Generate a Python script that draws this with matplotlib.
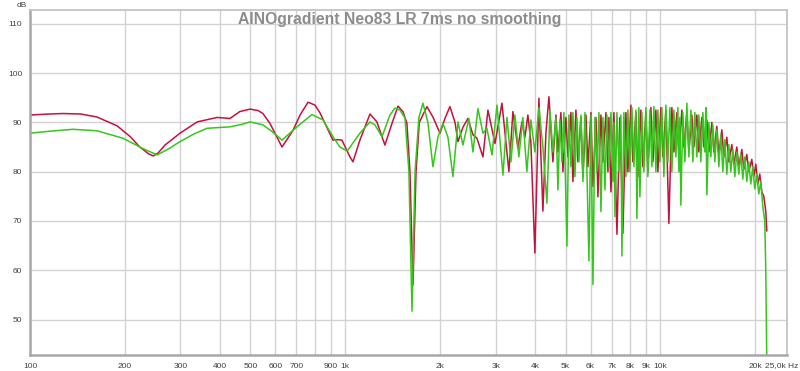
import matplotlib
matplotlib.use("Agg")
import matplotlib.pyplot as plt

freq_red = [100, 115, 127, 145, 163, 189, 208, 223, 238, 246, 255, 268, 299, 339, 392, 431,
            463, 499, 529, 548, 577, 630, 683, 719, 762, 802, 832, 914, 948, 976, 1035, 1058,
            1113, 1198, 1260, 1336, 1407, 1470, 1524, 1569, 1604, 1640, 1677, 1717, 1816, 1897,
            1997, 2071, 2148, 2229, 2278, 2362, 2450, 2541, 2616, 2734, 2836, 2985, 3141, 3305,
            3403, 3529, 3634, 3715, 3796, 3880, 3995, 4114, 4236, 4332, 4427, 4557,
            4659, 4728, 4832, 4903, 5012, 5086, 5198, 5275, 5392, 5471, 5592, 5675, 5801, 5886,
            6016, 6105, 6240, 6332, 6472, 6567, 6713, 6812, 6862, 6963, 7117, 7275, 7434, 7599,
            7767, 7881, 8056, 8174, 8355, 8478, 8666, 8793, 8988, 9120, 9323, 9460, 9669, 9811,
            10029, 10176, 10402, 10632, 10867, 11027, 11271, 11437, 11690, 11862, 12124, 12303,
            12575, 12760, 13042, 13234, 13527, 13725, 14029, 14236, 14551, 14765, 15090, 15314,
            15652, 15882, 16234, 16472, 16837, 17084, 17462, 17718, 18110, 18376, 18782, 19058,
            19480, 19766, 20057, 20351, 20650, 20954, 21261, 21574, 21732]
spl_red = [91.5, 91.7, 91.8, 91.7, 91.1, 89.3, 87.1, 85.0, 83.6, 83.2, 83.8, 85.4, 87.8, 90.1, 91.0, 90.8,
           92.2, 92.7, 92.4, 91.8, 89.8, 85.0, 88.4, 91.5, 94.1, 93.5, 91.9, 86.4, 86.5, 86.4, 83.0, 82.0,
           86.4, 91.7, 90.1, 85.4, 89.8, 93.3, 92.2, 89.8, 80.0, 57.0, 80.0, 90.0, 93.2, 91.1,
           87.8, 90.8, 93.2, 90.0, 86.1, 89.0, 90.8, 87.5, 86.8, 83.0, 92.5, 85.7, 93.9, 80.0,
           92.2, 84.8, 90.1, 87.0, 91.5, 86.0, 63.5, 94.9, 72.0, 88.0, 95.2, 82.0,
           91.5, 84.0, 92.0, 80.0, 91.0, 83.0, 92.0, 78.0, 92.5, 82.0, 91.0, 79.0, 91.5, 81.0,
           92.0, 77.0, 91.0, 74.9, 91.5, 82.0, 92.0, 80.0, 91.0, 75.9, 92.0, 67.3, 91.0, 67.5,
           92.0, 80.0, 93.5, 82.0, 92.0, 79.0, 92.5, 81.0, 92.0, 80.0, 93.0, 82.0, 92.5, 80.0,
           93.0, 83.0, 92.5, 69.5, 93.0, 84.0, 92.0, 83.0, 92.5, 85.0, 92.0, 84.0,
           91.5, 85.0, 91.5, 84.0, 91.0, 85.0, 90.5, 84.0, 90.0, 84.0, 89.2, 83.5,
           88.5, 83.0, 87.0, 82.0, 85.5, 81.5, 85.0, 81.0, 84.5, 80.5, 83.5, 80.0,
           82.5, 79.0, 81.5, 77.5, 79.5, 76.0, 75.0, 72.0, 68.0]

freq_green = [100, 115, 137, 163, 197, 228, 253, 278, 299, 330, 364, 431, 470, 499, 548, 590,
              630, 703, 784, 850, 914, 962, 1000, 1020, 1113, 1198, 1242, 1308, 1386, 1438, 1491,
              1547, 1592, 1628, 1665, 1713, 1764, 1829, 1897, 1968, 2041, 2117, 2196, 2278, 2362,
              2468, 2541, 2636, 2734, 2814, 2921, 3029, 3164, 3258, 3354, 3453, 3554, 3660, 3768,
              3881, 3995, 4114, 4236, 4363, 4460, 4557,
              4659, 4728, 4797, 4868, 4939, 5049, 5123, 5198, 5275, 5352, 5431, 5511, 5592, 5675,
              5759, 5843, 5929, 6016, 6105, 6195, 6286, 6378, 6472, 6567, 6664, 6762, 6862, 6963,
              7065, 7117, 7169, 7275, 7382, 7489, 7544, 7654, 7767, 7881, 7997, 8115, 8234, 8355,
              8416, 8540, 8603, 8729, 8858, 8988, 9120, 9255, 9391, 9529, 9669, 9811, 9956, 10102,
              10251, 10402, 10555, 10710, 10867, 11027, 11189, 11354, 11437, 11520, 11605, 11775,
              11949, 12124, 12303, 12484, 12667, 12853, 13042, 13234, 13428, 13626, 13826, 13927,
              14029, 14236, 14445, 14658, 14873, 15090, 15314, 15539, 15767, 15998, 16234, 16472,
              16714, 16960, 17209, 17462, 17718, 17978, 18242, 18510, 18782, 19058, 19338, 19622,
              19910, 20203, 20500, 20802, 21107, 21417, 21574, 21732]
spl_green = [87.8, 88.2, 88.6, 88.3, 86.8, 84.7, 83.4, 84.8, 86.1, 87.6, 88.8, 89.1, 89.6, 90.1, 89.5, 88.0,
             86.4, 89.1, 91.6, 90.5, 87.1, 85.0, 84.4, 84.4, 87.8, 90.1, 89.5, 87.1, 91.5, 92.9, 92.5,
             90.9, 80.0, 51.7, 80.0, 91.0, 93.9, 90.0, 81.0, 87.0, 89.8, 87.0, 79.0, 90.1, 85.4,
             90.8, 84.0, 92.8, 87.8, 88.8, 83.4, 93.5, 79.3, 91.0, 82.0, 91.5, 83.0, 91.0, 80.0,
             90.5, 84.0, 93.0, 85.0, 73.6, 92.5, 84.0,
             91.0, 76.3, 90.5, 82.0, 92.0, 64.9, 91.5, 81.0, 92.0, 79.0, 91.0, 82.0, 91.5, 78.0,
             92.0, 80.0, 61.9, 91.5, 57.1, 91.0, 80.0, 92.0, 71.9, 91.0, 76.3, 91.5, 81.0, 92.0,
             78.0, 90.0, 70.9, 92.0, 80.0, 91.5, 62.9, 92.0, 79.0, 92.5, 80.0, 93.0, 81.0, 92.5,
             70.5, 93.0, 74.9, 92.0, 80.0, 93.0, 79.0, 92.5, 81.0, 93.2, 80.0, 92.5, 82.0, 93.0,
             79.0, 93.5, 82.0, 93.0, 80.0, 92.5, 83.0, 93.0, 80.0, 91.0, 73.2, 92.0,
             82.0, 93.9, 83.0, 92.5, 82.0, 92.0, 83.0, 91.5, 82.0, 92.0, 84.0, 93.0,
             75.3, 90.0, 83.0, 89.5, 82.0, 88.5, 81.0, 87.5, 80.0, 86.5, 79.5, 85.5,
             80.0, 84.5, 79.0, 84.0, 79.5, 83.5, 78.5, 83.0, 78.0, 82.0, 77.5, 81.0,
             76.5, 79.5, 75.5, 78.0, 73.0, 70.0, 60.0, 42.0]

x_ticks = [100, 200, 300, 400, 500, 600, 700, 800, 900, 1000, 2000, 3000, 4000, 5000,
           6000, 7000, 8000, 9000, 10000, 20000]
x_labels = ["100", "200", "300", "400", "500", "600", "700", "", "900", "1k", "2k", "3k", "4k",
            "5k", "6k", "7k", "8k", "9k", "10k", "20k"]
y_ticks = [50, 60, 70, 80, 90, 100, 110]

plt.rcParams["font.family"] = ["Liberation Sans", "DejaVu Sans"]

fig = plt.figure(figsize=(8, 3.71), dpi=100)
ax = fig.add_axes([0.0375, 0.043, 0.9463, 0.930])

ax.plot(freq_red, spl_red, color="#c8103e", linewidth=1.1)
ax.plot(freq_green, spl_green, color="#33c81a", linewidth=1.1)

ax.set_xscale("log")
ax.set_xlim(100, 25200)
ax.set_ylim(42.8, 112.8)

ax.set_xticks(x_ticks)
ax.set_xticklabels(x_labels)
ax.minorticks_off()
ax.set_yticks(y_ticks)
ax.tick_params(length=0, labelsize=6, labelcolor="#404040", pad=5.5)
ax.grid(True, color="#d2d2d2", linewidth=1.0)
ax.set_axisbelow(True)

for side in ["left", "bottom"]:
    ax.spines[side].set_color("#a8a8a8")
    ax.spines[side].set_linewidth(1.8)
for side in ["top", "right"]:
    ax.spines[side].set_color("#c4c4c4")
    ax.spines[side].set_linewidth(1.3)

# title sits inside the frame like in REW, centred on the window
fig.text(0.5, 0.968, "AINOgradient Neo83 LR 7ms no smoothing", ha="center", va="top",
         fontsize=11.3, fontweight="bold", color="#8c8c8c")
ax.annotate("dB", xy=(0, 1), xycoords="axes fraction", xytext=(-6, 0.5), textcoords="offset points",
            ha="center", va="bottom", fontsize=6, color="#404040")
ax.annotate("25,0k Hz", xy=(1, 0), xycoords="axes fraction", xytext=(8, -5),
            textcoords="offset points", ha="right", va="top", fontsize=6, color="#404040")

fig.savefig("out.png", dpi=100)
